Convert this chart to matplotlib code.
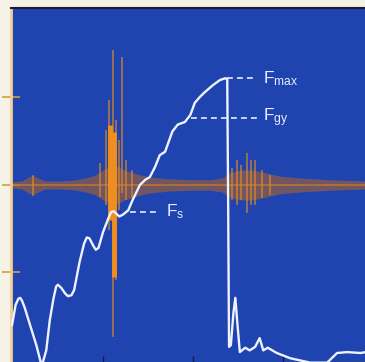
import matplotlib
matplotlib.use("Agg")
import matplotlib.pyplot as plt

# force curve (time, force)
force_t = [-0.01, 0.03, 0.06, 0.08, 0.10, 0.13, 0.19, 0.26, 0.32, 0.37, 0.41,
           0.45, 0.48, 0.50, 0.54, 0.58, 0.61, 0.65, 0.68, 0.74, 0.79, 0.82,
           0.85, 0.89, 0.92, 0.95, 1.00, 1.06, 1.09, 1.12, 1.15, 1.18, 1.22,
           1.28, 1.33, 1.41, 1.47, 1.52, 1.58, 1.63, 1.69, 1.77, 1.83, 1.91,
           1.97, 2.02, 2.08, 2.13, 2.22, 2.30, 2.36, 2.38, 2.39, 2.40, 2.42,
           2.45, 2.47, 2.49, 2.52, 2.58, 2.63, 2.69, 2.74, 2.78, 2.83, 2.93,
           3.08, 3.30, 3.49, 3.60, 3.71, 3.86, 3.92]
force_f = [0.40, 0.63, 0.70, 0.71, 0.68, 0.60, 0.40, 0.17, -0.07, 0.11, 0.46,
           0.70, 0.84, 0.86, 0.82, 0.76, 0.73, 0.74, 0.80, 1.12, 1.33, 1.40,
           1.39, 1.31, 1.26, 1.28, 1.46, 1.62, 1.69, 1.70, 1.67, 1.64, 1.66,
           1.71, 1.83, 2.00, 2.06, 2.09, 2.21, 2.34, 2.38, 2.61, 2.69, 2.72,
           2.80, 2.94, 3.01, 3.06, 3.14, 3.20, 3.22, 3.21, 1.83, 0.15, 0.17,
           0.55, 0.71, 0.45, 0.09, 0.14, 0.11, 0.15, 0.25, 0.11, 0.14, 0.08,
           0.02, -0.03, -0.03, 0.08, 0.09, 0.08, 0.09]

# acoustic emission: baseline, envelope half-width and spikes
ae_base = 2.0
env_t = [-0.01, 0.10, 0.17, 0.22, 0.28, 0.36, 0.52, 0.69, 0.80, 0.91, 1.00,
         1.08, 1.17, 1.24, 1.36, 1.52, 1.74, 1.97, 2.19, 2.32, 2.41, 2.52,
         2.66, 2.80, 2.97, 3.19, 3.52, 3.92]
env_half = [0.034, 0.046, 0.09, 0.11, 0.08, 0.046, 0.046, 0.057, 0.08, 0.11,
            0.17, 0.21, 0.21, 0.17, 0.13, 0.09, 0.07, 0.06, 0.06, 0.08, 0.14,
            0.17, 0.17, 0.14, 0.10, 0.08, 0.06, 0.046]
spike_t = [0.22, 0.97, 1.03, 1.07, 1.11, 1.14, 1.18, 1.21, 1.26, 1.32,
           2.43, 2.49, 2.53, 2.60, 2.64, 2.69, 2.77, 2.86]
spike_top = [2.11, 2.25, 2.63, 2.97, 3.54, 2.74, 2.51, 3.46, 2.29, 2.17,
             2.19, 2.29, 2.23, 2.37, 2.29, 2.29, 2.17, 2.11]
spike_bot = [1.87, 1.86, 1.77, 1.49, 0.26, 0.91, 1.71, 1.91, 1.83, 1.85,
             1.83, 1.77, 1.83, 1.68, 1.77, 1.77, 1.85, 1.89]
core_t = [1.08, 1.12]
core_top = [2.69, 2.60]
core_bot = [1.60, 0.95]

# characteristic force levels
levels = {"max": 3.22, "gy": 2.77, "s": 1.69}
level_start = {"max": 2.38, "gy": 1.98, "s": 1.30}
level_end = {"max": 2.71, "gy": 2.71, "s": 1.63}
label_t = {"max": 2.78, "gy": 2.78, "s": 1.70}

plt.rcParams["font.family"] = ["Liberation Sans", "DejaVu Sans"]
plt.rcParams["mathtext.default"] = "regular"

fig = plt.figure(figsize=(3.65, 3.62), dpi=100, facecolor="#f7f2e6")
ax = fig.add_axes([0.030, 0.0, 0.970, 0.978])
ax.set_facecolor("#1f44b0")

# AE band
lo = [ae_base - h for h in env_half]
hi = [ae_base + h for h in env_half]
ax.fill_between(env_t, lo, hi, color="#a8622c", alpha=0.6, lw=0, zorder=2)
ax.plot(env_t, [ae_base] * len(env_t), color="#c87a2a", lw=1.2, alpha=0.8,
        zorder=2)
ax.vlines(spike_t, spike_bot, spike_top, color="#e08a24", lw=1.1, alpha=0.8,
          zorder=3)
ax.vlines(core_t, core_bot, core_top, color="#ee8e1e", lw=3.5, zorder=3)

# force curve
ax.plot(force_t, force_f, color="#eef2ff", lw=1.7, zorder=4,
        solid_joinstyle="round")

for key, val in levels.items():
    ax.plot([level_start[key], level_end[key]], [val, val], color="#e8eeff",
            lw=1.2, ls=(0, (3.5, 2.5)), zorder=4)
    ax.text(label_t[key], val, "F$_{%s}$" % key, color="#e8eeff",
            fontsize=12.5, va="center", ha="left", zorder=5)

ax.set_xlim(-0.022, 3.91)
ax.set_ylim(-0.023, 4.023)
ax.set_xticks([1, 2, 3])
ax.set_yticks([1, 2, 3])
ax.set_xticklabels([])
ax.set_yticklabels([])
ax.tick_params(axis="y", direction="inout", length=13, width=1.2,
               color="#c9a23a")
ax.tick_params(axis="x", direction="in", length=4, width=1.0,
               color="#1a1a40")

for side in ["right", "bottom"]:
    ax.spines[side].set_visible(False)
ax.spines["left"].set_color("#f2cf98")
ax.spines["left"].set_linewidth(2)
ax.spines["top"].set_color("#1a1a3a")
ax.spines["top"].set_linewidth(1.5)

fig.savefig("out.png", dpi=100)
